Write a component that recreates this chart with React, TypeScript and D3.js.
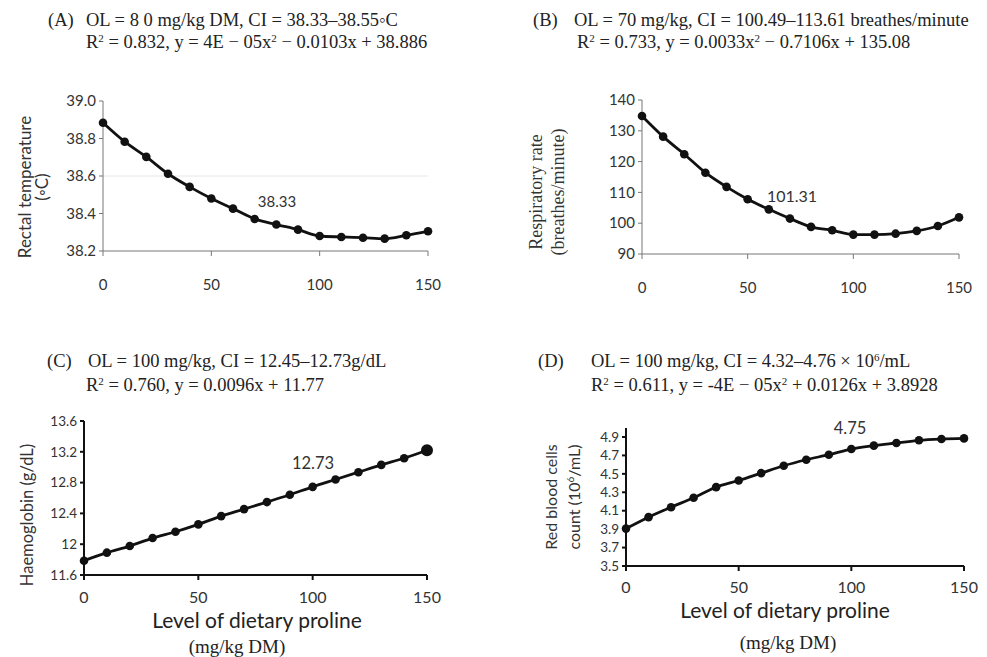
import React, { useRef, useEffect } from 'react';
import * as d3 from 'd3';

const levels = [0, 10, 20, 30, 40, 50, 60, 70, 80, 90, 100, 110, 120, 130, 140, 150];
const rectalTemp = [38.884, 38.783, 38.702, 38.612, 38.542, 38.48, 38.426, 38.371, 38.341, 38.314, 38.28, 38.275, 38.271, 38.266, 38.284, 38.305];
const respRate = [134.8, 128.1, 122.4, 116.4, 111.8, 107.8, 104.5, 101.5, 98.8, 97.7, 96.3, 96.3, 96.6, 97.5, 99.1, 101.9];
const haemoglobin = [11.786, 11.89, 11.976, 12.08, 12.162, 12.257, 12.365, 12.456, 12.547, 12.642, 12.745, 12.84, 12.935, 13.03, 13.116, 13.22];
const rbc = [3.906, 4.03, 4.138, 4.24, 4.356, 4.428, 4.508, 4.588, 4.653, 4.708, 4.769, 4.806, 4.835, 4.864, 4.878, 4.885];
const xTicks = [0, 50, 100, 150];
const tempTicks = [38.2, 38.4, 38.6, 38.8, 39.0];
const respTicks = [90, 100, 110, 120, 130, 140];
const hbTicks = [11.6, 12, 12.4, 12.8, 13.2, 13.6];
const rbcTicks = [3.5, 3.7, 3.9, 4.1, 4.3, 4.5, 4.7, 4.9];

const SERIF = '"Liberation Serif", "DejaVu Serif", serif';
const SANS = 'Lato, "Open Sans", "Liberation Sans", sans-serif';
const NARROW = '"Liberation Sans Narrow", Lato, sans-serif';

interface PanelCfg {
  values: number[];
  yDomain: [number, number];
  yTicks: number[];
  yFmt: (v: number) => string;
  x0: number; x1: number; yTop: number; yBottom: number; axisTop: number;
  tickLabelY: number;
  axisColor: string; axisWidth: number;
  tickFamily: string; yTickFont: number; xTickFont: number;
  note: string; noteX: number; noteY: number; noteFont: number;
  grid?: number;
  bigLast?: boolean;
}

const panels: PanelCfg[] = [
  {
    values: rectalTemp, yDomain: [38.2, 39.0], yTicks: tempTicks, yFmt: d3.format('.1f'),
    x0: 103, x1: 428, yTop: 101, yBottom: 251, axisTop: 101, tickLabelY: 290,
    axisColor: '#777', axisWidth: 1, tickFamily: NARROW, yTickFont: 15, xTickFont: 15,
    note: '38.33', noteX: 277, noteY: 207, noteFont: 15, grid: 38.6,
  },
  {
    values: respRate, yDomain: [90, 140], yTicks: respTicks, yFmt: d3.format('d'),
    x0: 642, x1: 959, yTop: 100, yBottom: 254, axisTop: 100, tickLabelY: 293,
    axisColor: '#777', axisWidth: 1, tickFamily: SANS, yTickFont: 15, xTickFont: 15,
    note: '101.31', noteX: 792, noteY: 202, noteFont: 16,
  },
  {
    values: haemoglobin, yDomain: [11.6, 13.6], yTicks: hbTicks,
    yFmt: (v) => (Math.abs(v - Math.round(v)) < 1e-6 ? String(Math.round(v)) : v.toFixed(1)),
    x0: 84, x1: 427, yTop: 421, yBottom: 575, axisTop: 421, tickLabelY: 603,
    axisColor: '#111', axisWidth: 2, tickFamily: SANS, yTickFont: 13.5, xTickFont: 16,
    note: '12.73', noteX: 313, noteY: 469, noteFont: 16.5, bigLast: true,
  },
  {
    values: rbc, yDomain: [3.5, 4.9], yTicks: rbcTicks, yFmt: d3.format('.1f'),
    x0: 626, x1: 964, yTop: 437, yBottom: 566, axisTop: 428, tickLabelY: 593,
    axisColor: '#111', axisWidth: 2, tickFamily: SANS, yTickFont: 13.5, xTickFont: 16,
    note: '4.75', noteX: 850, noteY: 434, noteFont: 16.5,
  },
];

const App: React.FC = () => {
  const gRef = useRef<SVGGElement | null>(null);

  useEffect(() => {
    const root = d3.select(gRef.current);
    root.selectAll('*').remove();

    panels.forEach((p) => {
      const x = d3.scaleLinear().domain([0, 150]).range([p.x0, p.x1]);
      const y = d3.scaleLinear().domain(p.yDomain).range([p.yBottom, p.yTop]);
      const g = root.append('g');

      if (p.grid !== undefined) {
        g.append('line').attr('x1', p.x0).attr('x2', p.x1).attr('y1', y(p.grid)).attr('y2', y(p.grid))
          .attr('stroke', '#e6e6e6').attr('stroke-width', 1);
      }

      // y axis
      g.append('line').attr('x1', p.x0).attr('x2', p.x0).attr('y1', p.axisTop).attr('y2', p.yBottom)
        .attr('stroke', p.axisColor).attr('stroke-width', p.axisWidth);
      p.yTicks.forEach((t) => {
        g.append('line').attr('x1', p.x0 - 4).attr('x2', p.x0).attr('y1', y(t)).attr('y2', y(t))
          .attr('stroke', p.axisColor).attr('stroke-width', p.axisWidth);
        g.append('text').attr('x', p.x0 - 7).attr('y', y(t)).attr('dy', '0.35em')
          .attr('text-anchor', 'end').attr('font-family', p.tickFamily).attr('font-size', p.yTickFont)
          .attr('fill', '#333').text(p.yFmt(t));
      });

      // x axis
      g.append('line').attr('x1', p.x0).attr('x2', p.x1).attr('y1', p.yBottom).attr('y2', p.yBottom)
        .attr('stroke', p.axisColor).attr('stroke-width', p.axisWidth);
      xTicks.forEach((t) => {
        g.append('line').attr('x1', x(t)).attr('x2', x(t)).attr('y1', p.yBottom).attr('y2', p.yBottom + 5)
          .attr('stroke', p.axisColor).attr('stroke-width', p.axisWidth);
        g.append('text').attr('x', x(t)).attr('y', p.tickLabelY)
          .attr('text-anchor', 'middle').attr('font-family', p.tickFamily).attr('font-size', p.xTickFont)
          .attr('fill', '#333').text(String(t));
      });

      const line = d3.line<number>().x((_, i) => x(levels[i])).y((d) => y(d)).curve(d3.curveMonotoneX);
      g.append('path').attr('d', line(p.values)!).attr('fill', 'none')
        .attr('stroke', '#111').attr('stroke-width', 2.8);
      g.selectAll('circle.pt').data(p.values).enter().append('circle')
        .attr('cx', (_, i) => x(levels[i])).attr('cy', (d) => y(d))
        .attr('r', (_, i) => (p.bigLast && i === p.values.length - 1 ? 6 : 4.3)).attr('fill', '#111');

      g.append('text').attr('x', p.noteX).attr('y', p.noteY).attr('text-anchor', 'middle')
        .attr('font-family', p.tickFamily).attr('font-size', p.noteFont).attr('fill', '#333').text(p.note);
    });
  }, []);

  const title = { fontFamily: SERIF, fontSize: 18.5, fill: '#222' } as React.CSSProperties;
  const supS = { fontSize: 11 } as React.CSSProperties;

  return (
    <div style={{ position: 'fixed', left: 0, top: 0, width: 987, height: 657, background: '#fff' }}>
      <svg width={987} height={657}>
        <text x={48} y={26} style={title}>(A)</text>
        <text x={86} y={26} style={title}>OL = 8 0 mg/kg DM, CI = 38.33–38.55◦C</text>
        <text x={86} y={48} style={title}>R<tspan dy={-6} style={supS}>2</tspan><tspan dy={6}> = 0.832, y = 4E − 05x</tspan><tspan dy={-6} style={supS}>2</tspan><tspan dy={6}> − 0.0103x + 38.886</tspan></text>

        <text x={533} y={26} style={title}>(B)</text>
        <text x={574} y={26} style={title}>OL = 70 mg/kg, CI = 100.49–113.61 breathes/minute</text>
        <text x={577} y={48} style={title}>R<tspan dy={-6} style={supS}>2</tspan><tspan dy={6}> = 0.733, y = 0.0033x</tspan><tspan dy={-6} style={supS}>2</tspan><tspan dy={6}> − 0.7106x + 135.08</tspan></text>

        <text x={47} y={367} style={title}>(C)</text>
        <text x={88} y={367} style={title}>OL = 100 mg/kg, CI = 12.45–12.73g/dL</text>
        <text x={86} y={391} style={title}>R<tspan dy={-6} style={supS}>2</tspan><tspan dy={6}> = 0.760, y = 0.0096x + 11.77</tspan></text>

        <text x={538} y={367} style={title}>(D)</text>
        <text x={591} y={367} style={title}>OL = 100 mg/kg, CI = 4.32–4.76 × 10<tspan dy={-6} style={supS}>6</tspan><tspan dy={6}>/mL</tspan></text>
        <text x={591} y={391} style={title}>R<tspan dy={-6} style={supS}>2</tspan><tspan dy={6}> = 0.611, y = -4E − 05x</tspan><tspan dy={-6} style={supS}>2</tspan><tspan dy={6}> + 0.0126x + 3.8928</tspan></text>

        {/* y axis titles */}
        <g transform="translate(31,187) rotate(-90)">
          <text textAnchor="middle" fontFamily={SANS} fontSize={17} fill="#333">Rectal temperature</text>
          <text y={17} textAnchor="middle" fontFamily={SANS} fontSize={17} fill="#333">(◦C)</text>
        </g>
        <g transform="translate(542,192) rotate(-90)">
          <text textAnchor="middle" fontFamily={SERIF} fontSize={18} fill="#333">Respiratory rate</text>
          <text y={22} textAnchor="middle" fontFamily={SERIF} fontSize={18} fill="#333">(breathes/minute)</text>
        </g>
        <g transform="translate(33,515) rotate(-90)">
          <text textAnchor="middle" fontFamily={SANS} fontSize={16.5} fill="#333">Haemoglobin (g/dL)</text>
        </g>
        <g transform="translate(557,497) rotate(-90)">
          <text textAnchor="middle" fontFamily={SANS} fontSize={16} fill="#333">Red blood cells</text>
          <text y={23} textAnchor="middle" fontFamily={SANS} fontSize={16} fill="#333">count (10<tspan dy={-6} fontSize={10}>6</tspan><tspan dy={6}>/mL)</tspan></text>
        </g>

        {/* x axis titles */}
        <text x={257} y={628} textAnchor="middle" fontFamily={SANS} fontSize={21} fill="#222">Level of dietary proline</text>
        <text x={237} y={653} textAnchor="middle" fontFamily={SERIF} fontSize={19} fill="#222">(mg/kg DM)</text>
        <text x={785} y={618} textAnchor="middle" fontFamily={SANS} fontSize={21} fill="#222">Level of dietary proline</text>
        <text x={788} y={649} textAnchor="middle" fontFamily={SERIF} fontSize={19} fill="#222">(mg/kg DM)</text>

        <g ref={gRef} />
      </svg>
    </div>
  );
};

export default App;
